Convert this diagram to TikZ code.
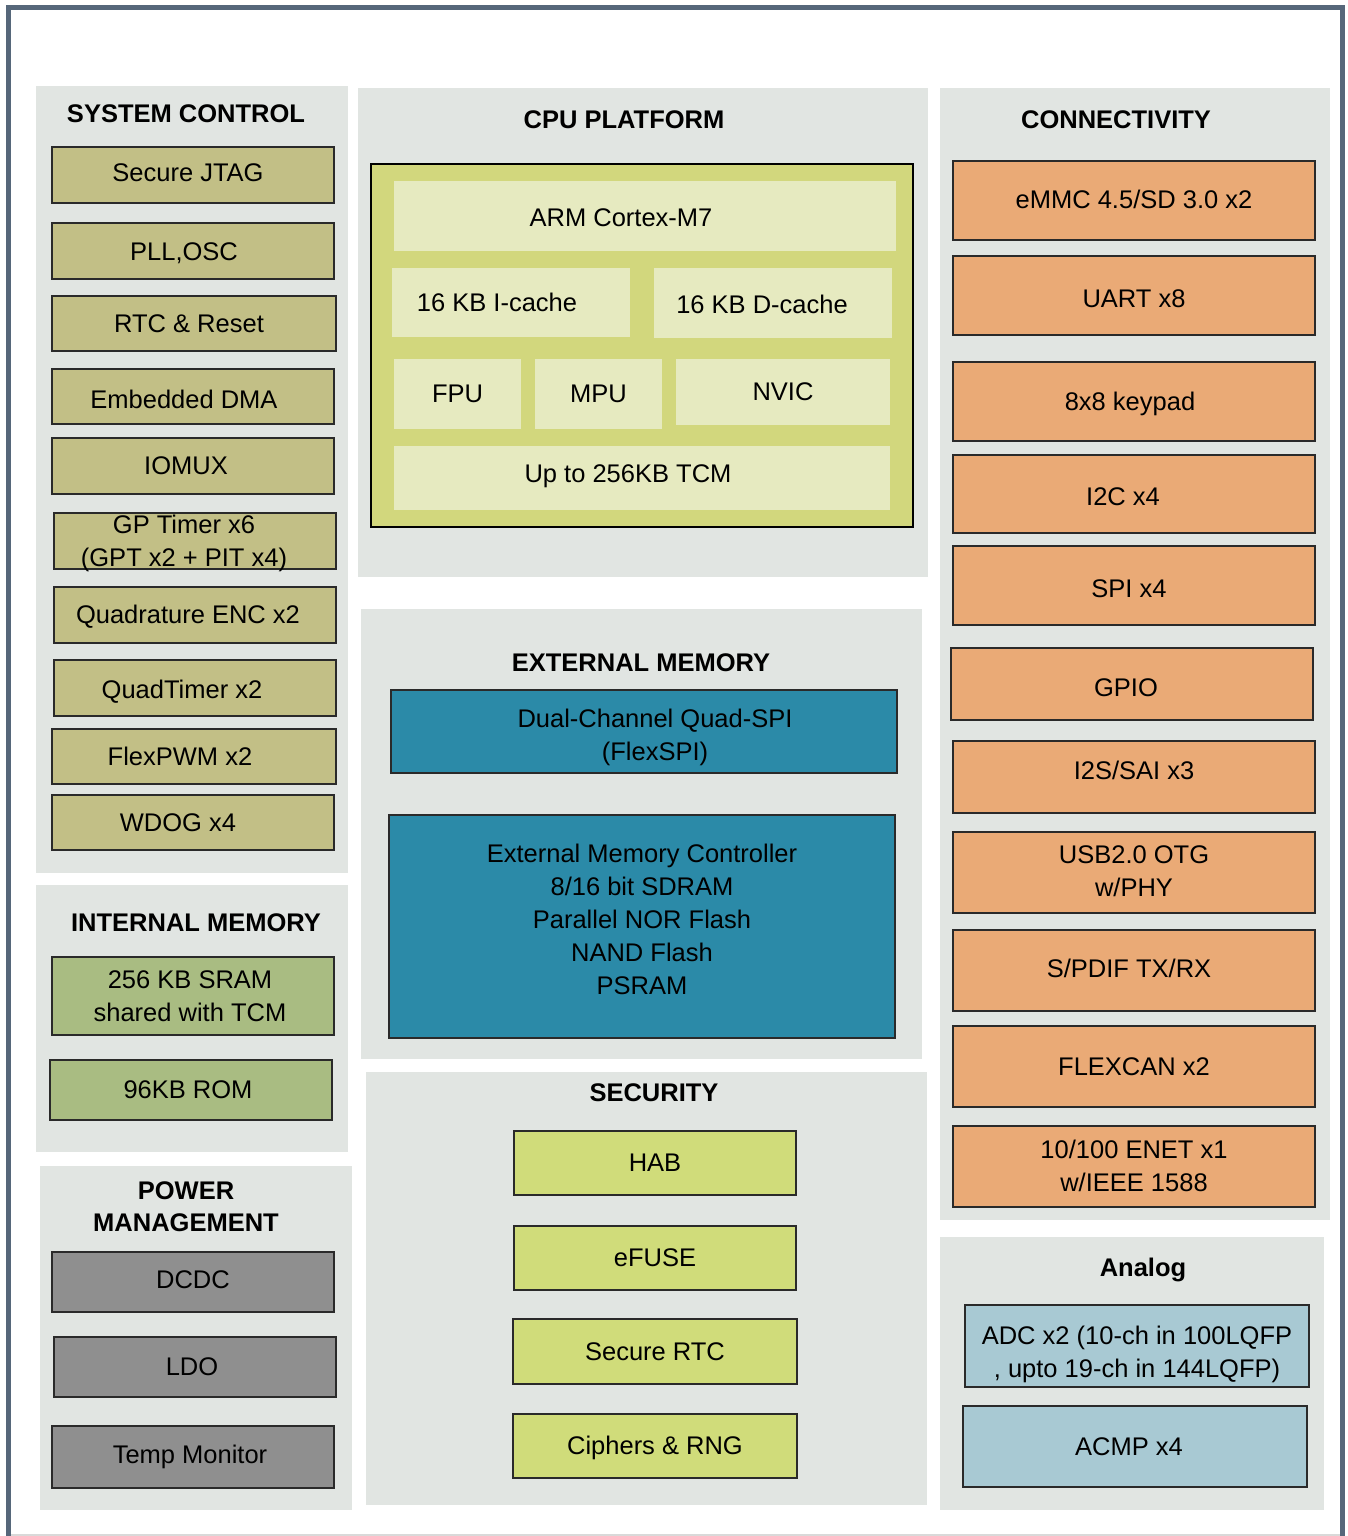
\documentclass[tikz,border=0pt]{standalone}
\usepackage{fontspec}
\setmainfont{Liberation Sans}
\definecolor{framec}{HTML}{56677A}
\definecolor{panelc}{HTML}{E1E5E2}
\definecolor{edgec}{HTML}{2A2A2A}
\definecolor{sysc}{HTML}{C2BF86}
\definecolor{imemc}{HTML}{A9BC82}
\definecolor{pwrc}{HTML}{8F8F8F}
\definecolor{cpuc}{HTML}{D2D77D}
\definecolor{cpuin}{HTML}{E6EAC0}
\definecolor{extc}{HTML}{2B8AA8}
\definecolor{secc}{HTML}{D0DC7A}
\definecolor{conc}{HTML}{EAAA76}
\definecolor{anac}{HTML}{A8C9D3}
\begin{document}
\begin{tikzpicture}[x=1pt,y=-1pt,
  every node/.style={font=\fontsize{25.5}{33}\selectfont, align=center, inner sep=0pt},
  head/.style={font=\fontsize{25.5}{32}\selectfont\bfseries},
  panel/.style={fill=panelc},
  blk/.style={draw=edgec, line width=2pt},
  sysblk/.style={blk, fill=sysc},
  imemblk/.style={blk, fill=imemc},
  pwrblk/.style={blk, fill=pwrc},
  extblk/.style={blk, fill=extc},
  secblk/.style={blk, fill=secc},
  conblk/.style={blk, fill=conc},
  anablk/.style={blk, fill=anac},
  corepart/.style={fill=cpuin}]
	\useasboundingbox (0,0) rectangle (1348,1536);
	% outer frame
	\draw[black!15, line width=1.5pt] (8,1535) -- (1342,1535);
	\draw[framec, line width=5pt] (8.5,1536) -- (8.5,8) -- (1342,8) -- (1342,1536);
	% panels
	\fill[panel] (36,86) rectangle (348,873);
	\fill[panel] (36,885) rectangle (348,1152);
	\fill[panel] (40,1166) rectangle (352,1510);
	\fill[panel] (358,88) rectangle (928,577);
	\fill[panel] (361,609) rectangle (922,1059);
	\fill[panel] (366,1072) rectangle (927,1505);
	\fill[panel] (940,88) rectangle (1330,1220);
	\fill[panel] (940,1237) rectangle (1324,1510);
	% system control
	\node[head] (sysctl) at (186,114) {SYSTEM CONTROL};
	\draw[sysblk] (52,147) rectangle (334,203) node[midway, xshift=-5, yshift=2] (jtag) {Secure JTAG};
	\draw[sysblk] (52,223) rectangle (334,279) node[midway, xshift=-9, yshift=-2] (pll) {PLL,OSC};
	\draw[sysblk] (52,296) rectangle (336,351) node[midway, xshift=-5] (rtc) {RTC \& Reset};
	\draw[sysblk] (52,369) rectangle (334,424) node[midway, xshift=-9, yshift=-3] (edma) {Embedded DMA};
	\draw[sysblk] (52,438) rectangle (334,494) node[midway, xshift=-7] (iomux) {IOMUX};
	\draw[sysblk] (54,513) rectangle (336,569) node[midway] (gpt) {};
	\node (gptlbl) at (184,543) {GP Timer x6\\(GPT x2 + PIT x4)};
	\draw[sysblk] (54,587) rectangle (336,643) node[midway, xshift=-7, yshift=-2] (enc) {Quadrature ENC x2};
	\draw[sysblk] (54,660) rectangle (336,716) node[midway, xshift=-13, yshift=-4] (qtmr) {QuadTimer x2};
	\draw[sysblk] (52,729) rectangle (336,784) node[midway, xshift=-14] (pwm) {FlexPWM x2};
	\draw[sysblk] (52,795) rectangle (334,850) node[midway, xshift=-15] (wdog) {WDOG x4};
	% internal memory
	\node[head] (intmem) at (196,923) {INTERNAL MEMORY};
	\draw[imemblk] (52,957) rectangle (334,1035) node[midway, xshift=-3] (sram) {256 KB SRAM\\shared with TCM};
	\draw[imemblk] (50,1060) rectangle (332,1120) node[midway, xshift=-3] (rom) {96KB ROM};
	% power management
	\node[head, align=center] (power) at (186,1207) {POWER\\MANAGEMENT};
	\draw[pwrblk] (52,1252) rectangle (334,1312) node[midway, yshift=2] (dcdc) {DCDC};
	\draw[pwrblk] (54,1337) rectangle (336,1397) node[midway, xshift=-3] (ldo) {LDO};
	\draw[pwrblk] (52,1426) rectangle (334,1488) node[midway, xshift=-3] (temp) {Temp Monitor};
	% cpu platform
	\node[head] (cpu) at (624,120) {CPU PLATFORM};
	\draw[fill=cpuc, draw=black, line width=2pt] (371,164) rectangle (913,527);
	\fill[corepart] (394,181) rectangle (896,251);
	\node (arm) at (621,218) {ARM Cortex-M7};
	\fill[corepart] (392,268) rectangle (630,337);
	\node (icache) at (497,302) {16 KB I-cache};
	\fill[corepart] (654,268) rectangle (892,338);
	\node (dcache) at (762,304) {16 KB D-cache};
	\fill[corepart] (394,359) rectangle (521,429) node[midway] (fpu) {FPU};
	\fill[corepart] (535,359) rectangle (662,429) node[midway] (mpu) {MPU};
	\fill[corepart] (676,359) rectangle (890,425) node[midway] (nvic) {NVIC};
	\fill[corepart] (394,446) rectangle (890,510);
	\node (tcm) at (628,476) {Up to 256KB TCM};
	% external memory
	\node[head] (extmem) at (641,663) {EXTERNAL MEMORY};
	\draw[extblk] (391,690) rectangle (897,773);
	\node (flexspi) at (655,737) {Dual-Channel Quad-SPI\\(FlexSPI)};
	\draw[extblk] (389,815) rectangle (895,1038);
	\node (semc) at (642,919) {External Memory Controller\\8/16 bit SDRAM\\Parallel NOR Flash\\NAND Flash\\PSRAM};
	% security
	\node[head] (security) at (654,1093) {SECURITY};
	\draw[secblk] (514,1131) rectangle (796,1195) node[midway] (hab) {HAB};
	\draw[secblk] (514,1226) rectangle (796,1290) node[midway] (efuse) {eFUSE};
	\draw[secblk] (513,1319) rectangle (797,1384) node[midway] (srtc) {Secure RTC};
	\draw[secblk] (513,1414) rectangle (797,1478) node[midway, yshift=-2] (rng) {Ciphers \& RNG};
	% connectivity
	\node[head] (conn) at (1116,120) {CONNECTIVITY};
	\draw[conblk] (953,161) rectangle (1315,240) node[midway, yshift=1] (emmc) {eMMC 4.5/SD 3.0 x2};
	\draw[conblk] (953,256) rectangle (1315,335) node[midway, yshift=-3] (uart) {UART x8};
	\draw[conblk] (953,362) rectangle (1315,441) node[midway, xshift=-4, yshift=-2] (kpp) {8x8 keypad};
	\draw[conblk] (953,455) rectangle (1315,533) node[midway, xshift=-11, yshift=-3] (i2c) {I2C x4};
	\draw[conblk] (953,546) rectangle (1315,625) node[midway, xshift=-5, yshift=-3] (spi) {SPI x4};
	\draw[conblk] (951,648) rectangle (1313,720) node[midway, xshift=-6, yshift=-4] (gpio) {GPIO};
	\draw[conblk] (953,741) rectangle (1315,813);
	\node (sai) at (1134,770) {I2S/SAI x3};
	\draw[conblk] (953,832) rectangle (1315,913);
	\node (usb) at (1134,871) {USB2.0 OTG\\w/PHY};
	\draw[conblk] (953,930) rectangle (1315,1011) node[midway, xshift=-5, yshift=2] (spdif) {S/PDIF TX/RX};
	\draw[conblk] (953,1026) rectangle (1315,1107) node[midway] (can) {FLEXCAN x2};
	\draw[conblk] (953,1126) rectangle (1315,1207);
	\node (enet) at (1134,1166) {10/100 ENET x1\\w/IEEE 1588};
	% analog
	\node[head] (analog) at (1143,1270) {Analog};
	\draw[anablk] (965,1305) rectangle (1309,1387);
	\node (adc) at (1137,1354) {ADC x2 (10-ch in 100LQFP\\, upto 19-ch in 144LQFP)};
	\draw[anablk] (963,1406) rectangle (1307,1487) node[midway, xshift=-6] (acmp) {ACMP x4};
\end{tikzpicture}
\end{document}
